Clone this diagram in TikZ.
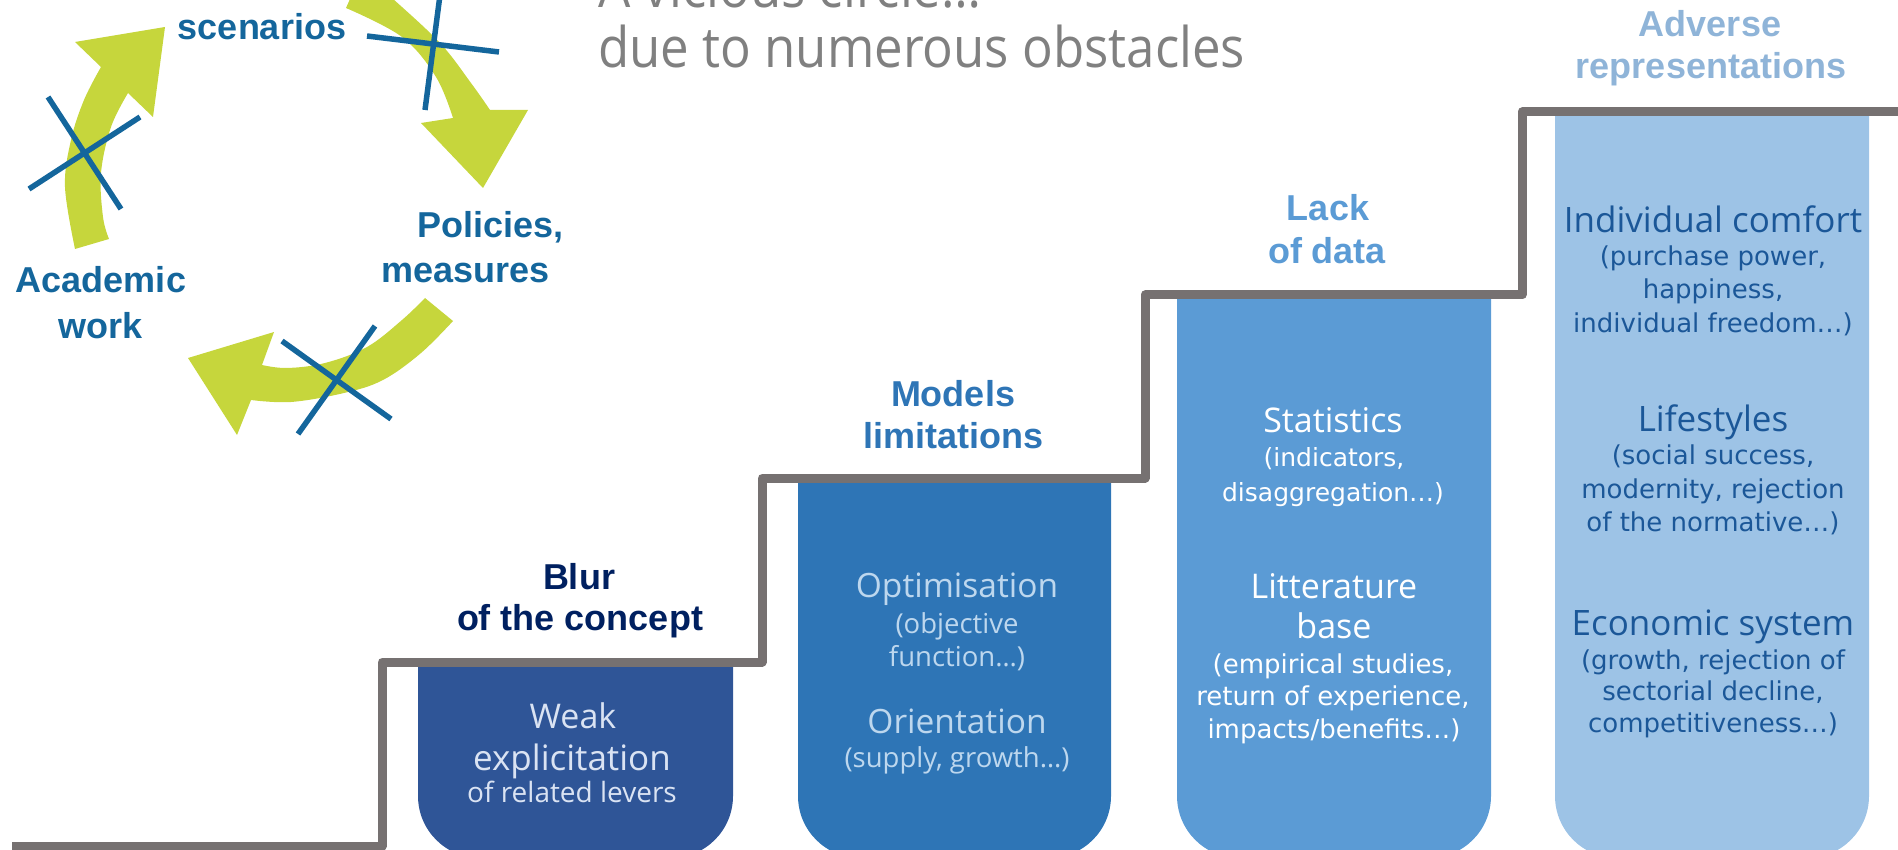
\documentclass[tikz,border=0pt]{standalone}
\usepackage{fontspec}
\setmainfont{Open Sans}
\newfontfamily\labelfont{Liberation Sans}
\newfontfamily\bodyfont{Open Sans}
\newfontfamily\notefont{DejaVu Sans}
\newfontfamily\bannerfont[FakeStretch=0.91]{Open Sans}

\definecolor{stairgray}{RGB}{118,113,113}
\definecolor{cyclegreen}{RGB}{198,214,60}
\definecolor{cycleblue}{RGB}{20,102,156}
\definecolor{titlegray}{RGB}{128,128,128}
\definecolor{pillarA}{RGB}{47,85,151}
\definecolor{pillarB}{RGB}{46,117,182}
\definecolor{pillarC}{RGB}{91,155,213}
\definecolor{pillarD}{RGB}{157,195,230}
\definecolor{navytitle}{RGB}{0,32,96}
\definecolor{advtitle}{RGB}{143,180,216}
\definecolor{textA}{RGB}{218,227,243}
\definecolor{textB}{RGB}{189,215,238}
\definecolor{textD}{RGB}{27,87,152}

% pillar with rounded bottom: left x, right x, top y, colour
\newcommand\pillarshape[4]{%
  \fill[#4] (#1,#3) -- (#1,796) arc[start angle=180,end angle=90,radius=62]
    -- (#2-62,858) arc[start angle=90,end angle=0,radius=62] -- (#2,#3) -- cycle;}

\begin{document}
\begin{tikzpicture}[x=1pt,y=-1pt,
  lbl/.style={inner sep=0pt, anchor=base},
  cyclelabel/.style={lbl, font=\labelfont\bfseries\fontsize{36pt}{36pt}\selectfont, text=cycleblue},
  pillartitle/.style={lbl, font=\labelfont\bfseries\fontsize{36pt}{36pt}\selectfont},
  bodytext/.style={lbl, font=\bodyfont\fontsize{#1pt}{#1pt}\selectfont},
  notetext/.style={lbl, font=\notefont\fontsize{#1pt}{#1pt}\selectfont},
  bannertext/.style={lbl, anchor=base west, font=\bannerfont\fontsize{56pt}{56pt}\selectfont, text=titlegray},
  crossline/.style={draw=cycleblue, line width=5.5pt},
  stair/.style={draw=stairgray, line width=9pt, line join=round}]
\useasboundingbox (0,0) rectangle (1898,850);
\clip (0,0) rectangle (1898,850);

% ---- the broken cycle ----
\fill[cyclegreen] plot[smooth, tension=0.6] coordinates {(75,249) (65,187) (71,140) (84,100) (101,67)}
  -- (75,42) -- (165,27) -- (153,117)
  -- plot[smooth, tension=0.6] coordinates {(128,93) (111,127) (101,173) (103,217) (109,239)} -- cycle;
\fill[cyclegreen] plot[smooth, tension=0.6] coordinates {(362,-28) (392,-2) (440,43) (471,83) (490,110)}
  -- (528,110) -- (483,188) -- (421,123)
  -- plot[smooth, tension=0.6] coordinates {(453,118) (436,77) (402,37) (346,8)} -- cycle;
\fill[cyclegreen] plot[smooth, tension=0.6] coordinates {(453,321) (421,353) (383,380) (344,393) (291,402) (251,400)}
  -- (237,435) -- (188,358) -- (274,332)
  -- plot[smooth, tension=0.6] coordinates {(262,365) (287,368) (325,363) (367,347) (402,320) (425,298)} -- cycle;

\draw[crossline] (48,97) -- (121,209);
\draw[crossline] (29,189) -- (140,117);
\draw[crossline] (440,-5) -- (425,110);
\draw[crossline] (367,36) -- (499,52);
\draw[crossline] (282,341) -- (391,419);
\draw[crossline] (375,326) -- (298,434);

\node[cyclelabel] (scen) at (262,40) {scenarios};
\node[cyclelabel, anchor=base west] (pol1) at (417,238) {Policies,};
\node[cyclelabel, anchor=base west] (pol2) at (381,283) {measures};
\node[cyclelabel] (acad1) at (101,293) {Academic};
\node[cyclelabel] (acad2) at (101,338) {work};

% ---- heading ----
\node[bannertext] (vic1) at (598,8) {A vicious circle…};
\node[bannertext] (vic2) at (598,68) {due to numerous obstacles};

% ---- pillars and staircase ----
\pillarshape{418}{733}{662}{pillarA}
\pillarshape{798}{1111}{478}{pillarB}
\pillarshape{1177}{1491}{295}{pillarC}
\pillarshape{1555}{1869}{112}{pillarD}

\draw[stair] (12,846) -- (382,846) -- (382,662) -- (762,662) -- (762,478)
  -- (1145,478) -- (1145,295) -- (1522,295) -- (1522,112) -- (1910,112);

% ---- step titles ----
\node[pillartitle, text=navytitle] (blur1) at (579,589) {Blur};
\node[pillartitle, text=navytitle] (blur2) at (580,630) {of the concept};
\node[pillartitle, text=pillarB] (mod1) at (953,406) {Models};
\node[pillartitle, text=pillarB] (mod2) at (953,448) {limitations};
\node[pillartitle, text=pillarC] (lack1) at (1328,221) {Lack};
\node[pillartitle, text=pillarC] (lack2) at (1327,264) {of data};
\node[pillartitle, text=advtitle] (adv1) at (1710,37) {Adverse};
\node[pillartitle, text=advtitle] (adv2) at (1711,79) {representations};

% ---- pillar 1 ----
\node[bodytext=34, text=textA] (weak1) at (573,728) {Weak};
\node[bodytext=35, text=textA] (weak2) at (572,770) {explicitation};
\node[bodytext=28, text=textA] (weak3) at (572,802) {of related levers};

% ---- pillar 2 ----
\node[bodytext=33.5, text=textB] (opt1) at (957,597) {Optimisation};
\node[bodytext=27.5, text=textB] (opt2) at (957,633) {(objective};
\node[bodytext=27.5, text=textB] (opt3) at (957,666) {function…)};
\node[bodytext=33.5, text=textB] (ori1) at (957,733) {Orientation};
\node[bodytext=27.5, text=textB] (ori2) at (957,767) {(supply, growth…)};

% ---- pillar 3 ----
\node[bodytext=34, text=white] (stat1) at (1333,432) {Statistics};
\node[notetext=25, text=white] (stat2) at (1334,466) {(indicators,};
\node[notetext=25, text=white] (stat3) at (1333,501) {disaggregation…)};
\node[bodytext=34, text=white] (lit1) at (1334,598) {Litterature};
\node[bodytext=34, text=white] (lit2) at (1334,638) {base};
\node[notetext=26, text=white] (lit3) at (1333,673) {(empirical studies,};
\node[notetext=26, text=white] (lit4) at (1333,705) {return of experience,};
\node[notetext=26, text=white] (lit5) at (1334,738) {impacts/benefits…)};

% ---- pillar 4 ----
\node[bodytext=35, text=textD] (ind1) at (1713,233) {Individual comfort};
\node[notetext=26, text=textD] (ind2) at (1713,266) {(purchase power,};
\node[notetext=26, text=textD] (ind3) at (1713,299) {happiness,};
\node[notetext=26, text=textD] (ind4) at (1713,333) {individual freedom…)};
\node[bodytext=35, text=textD] (life1) at (1713,431) {Lifestyles};
\node[notetext=26, text=textD] (life2) at (1713,464) {(social success,};
\node[notetext=26, text=textD] (life3) at (1713,498) {modernity, rejection};
\node[notetext=26, text=textD] (life4) at (1713,531) {of the normative…)};
\node[bodytext=35, text=textD] (eco1) at (1713,635) {Economic system};
\node[notetext=26, text=textD] (eco2) at (1713,669) {(growth, rejection of};
\node[notetext=26, text=textD] (eco3) at (1713,700) {sectorial decline,};
\node[notetext=26, text=textD] (eco4) at (1713,732) {competitiveness…)};
\end{tikzpicture}
\end{document}
